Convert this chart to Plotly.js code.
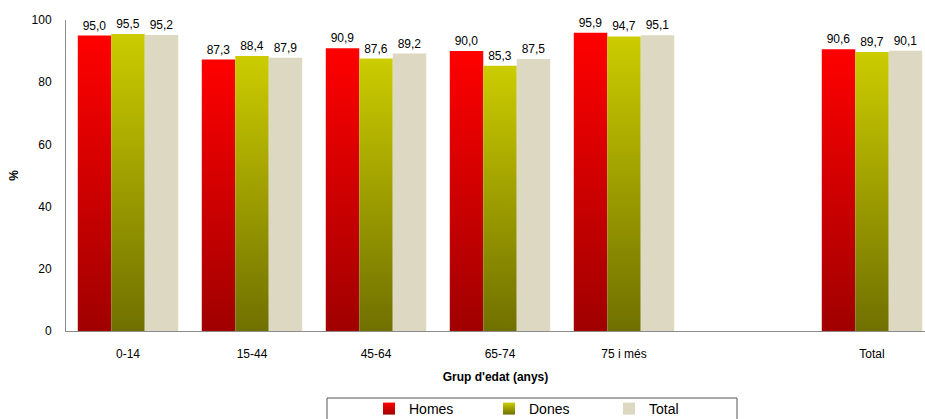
<!DOCTYPE html>
<html>
<head>
<meta charset="utf-8">
<script src="https://cdn.plot.ly/plotly-3.0.1.min.js"></script>
<style>
html,body{margin:0;padding:0;background:#fff;}
#chart{width:925px;height:419px;}
</style>
</head>
<body>
<svg width="0" height="0" style="position:absolute">
  <defs>
    <linearGradient id="gH" x1="0" y1="0" x2="0" y2="1">
      <stop offset="0" stop-color="#ff0000"/>
      <stop offset="1" stop-color="#a00000"/>
    </linearGradient>
    <linearGradient id="gD" x1="0" y1="0" x2="0" y2="1">
      <stop offset="0" stop-color="#cccc00"/>
      <stop offset="1" stop-color="#707000"/>
    </linearGradient>
  </defs>
</svg>
<div id="chart"></div>
<script>
var categories = ['0-14', '15-44', '45-64', '65-74', '75 i més', ' ', 'Total'];
var homes = [95.0, 87.3, 90.9, 90.0, 95.9, null, 90.6];
var dones = [95.5, 88.4, 87.6, 85.3, 94.7, null, 89.7];
var total = [95.2, 87.9, 89.2, 87.5, 95.1, null, 90.1];
var seriesNames = ['Homes', 'Dones', 'Total'];
var yTicks = [0, 20, 40, 60, 80, 100];

function mk(name, vals, color) {
  return {
    type: 'bar', name: name, x: categories, y: vals,
    marker: {color: color, line: {width: 0}},
    texttemplate: '%{y:.1f}', textposition: 'outside',
    textfont: {family: 'Liberation Sans, Arial, sans-serif', size: 12, color: '#000'},
    cliponaxis: false, hoverinfo: 'skip'
  };
}
var data = [
  mk(seriesNames[0], homes, '#e00000'),
  mk(seriesNames[1], dones, '#a8a800'),
  mk(seriesNames[2], total, '#ddd8c2')
];
var pw = 925 - 66, ph = 311;
var layout = {
  width: 925, height: 419,
  margin: {l: 66, r: 0, t: 20, b: 88, pad: 0, autoexpand: false},
  paper_bgcolor: '#fff', plot_bgcolor: '#fff',
  separators: ',.',
  font: {family: 'Liberation Sans, Arial, sans-serif', size: 12, color: '#000'},
  barmode: 'group', bargap: 0.19, bargroupgap: 0,
  showlegend: true,
  xaxis: {
    type: 'category', range: [-0.5, -0.5 + pw / 124],
    showline: true, linecolor: '#8c8c8c', linewidth: 1,
    ticks: 'outside', ticklen: 12, tickcolor: 'rgba(0,0,0,0)',
    showgrid: false, zeroline: false, automargin: false,
    tickfont: {size: 12, color: '#000'},
    title: {text: "<b>Grup d'edat (anys)</b>", font: {size: 12, color: '#000'}, standoff: 12}
  },
  yaxis: {
    range: [0, 100], tickvals: yTicks,
    showline: true, linecolor: '#8c8c8c', linewidth: 1,
    ticks: 'outside', ticklen: 11, tickcolor: 'rgba(0,0,0,0)',
    showgrid: false, zeroline: false, automargin: false,
    tickfont: {size: 12, color: '#000'},
    title: {text: '<b>%</b>', font: {size: 12, color: '#000'}, standoff: 10}
  },
  legend: {
    orientation: 'h', x: (369 - 66) / pw, xanchor: 'left',
    y: -(393 - 331) / ph, yanchor: 'top',
    entrywidth: 75, entrywidthmode: 'pixels',
    font: {size: 14, color: '#000'}, borderwidth: 0, bgcolor: 'rgba(0,0,0,0)',
    traceorder: 'normal'
  },
  shapes: [{
    type: 'rect', xref: 'paper', yref: 'paper',
    x0: (327 - 66) / pw, x1: (737 - 66) / pw,
    y0: -(398 - 331) / ph, y1: -(440 - 331) / ph,
    line: {color: '#555', width: 1}, fillcolor: 'rgba(0,0,0,0)', layer: 'above'
  }]
};
function applyGrad() {
  var fills = ['url(#gH)', 'url(#gD)', null];
  var traces = document.querySelectorAll('.barlayer .trace');
  traces.forEach(function (t, i) {
    if (!fills[i]) return;
    t.querySelectorAll('.point path').forEach(function (p) { p.style.fill = fills[i]; });
  });
  var lt = document.querySelectorAll('.legend .traces');
  lt.forEach(function (t, i) {
    if (!fills[i]) return;
    t.querySelectorAll('.legendpoints path').forEach(function (p) { p.style.fill = fills[i]; });
  });
}
Plotly.newPlot('chart', data, layout, {displayModeBar: false, staticPlot: true}).then(applyGrad);
</script>
</body>
</html>
